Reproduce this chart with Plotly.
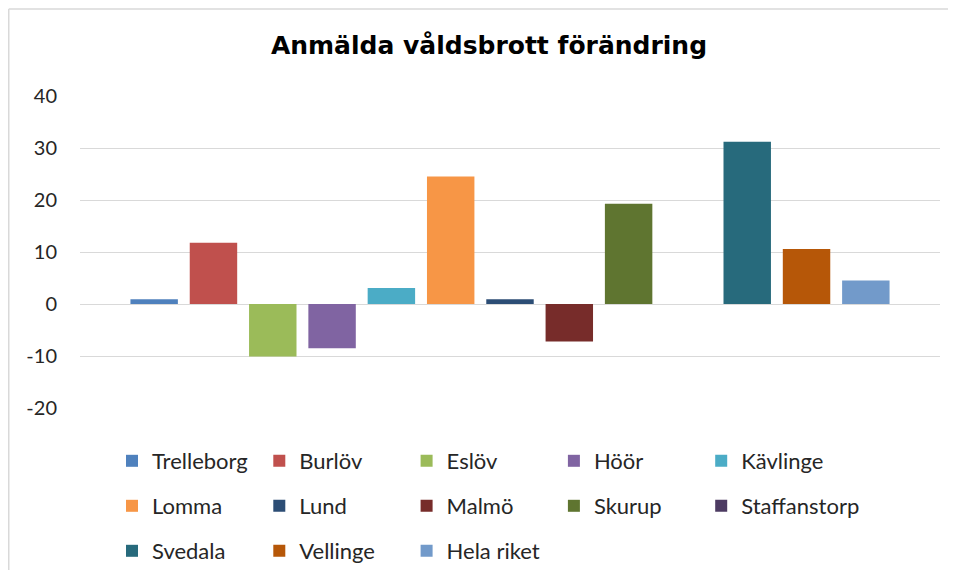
import plotly.graph_objects as go

municipalities = ["Trelleborg", "Burlöv", "Eslöv", "Höör", "Kävlinge",
                  "Lomma", "Lund", "Malmö", "Skurup", "Staffanstorp",
                  "Svedala", "Vellinge", "Hela riket"]
change = [0.9, 11.8, -10.1, -8.5, 3.1, 24.5, 0.9, -7.2, 19.3, 0.0, 31.2, 10.6, 4.5]
colors = ["#4F81BD", "#C0504D", "#9BBB59", "#8064A2", "#4BACC6",
          "#F79646", "#2C4D75", "#772C2A", "#5F7530", "#4D3B62",
          "#276A7C", "#B65708", "#729ACA"]
y_ticks = [-20, -10, 0, 10, 20, 30, 40]
y_tick_labels = ["-20", "-10", "0", "10", "20", "30", "40"]
title_text = "Anmälda våldsbrott förändring"

# the page has an 8px body margin on every side, so the figure is sized to fit inside it
OFF = 8
W, H = 956 - 2 * OFF, 578 - 2 * OFF
ML, MT = 80 - OFF, 96 - OFF
MR = W - (940 - OFF)
MB = H - (408 - OFF)
PW, PH = W - ML - MR, H - MT - MB


def px_x(page_x):
    return (page_x - OFF - ML) / PW


def px_y(page_y):
    return (H - MB - (page_y - OFF)) / PH


LEG_FONT = dict(family="Lato, Carlito, Calibri, sans-serif", size=22, color="#262626")
N_COLS = 5
COL_X0, COL_STEP = 112, 147.3
ROW_Y = [461, 506, 551]

fig = go.Figure()
legend_layout = {}
for i, (name, val, col) in enumerate(zip(municipalities, change, colors)):
    ln = "legend" if i == 0 else f"legend{i + 1}"
    fig.add_trace(go.Bar(
        x=[0], y=[val], name=name, marker=dict(color=col, line=dict(width=0)),
        offsetgroup=str(i), legend=ln, hoverinfo="name+y",
    ))
    r, c = divmod(i, N_COLS)
    legend_layout[ln] = dict(
        orientation="h", x=px_x(COL_X0 + c * COL_STEP), xanchor="left",
        y=px_y(ROW_Y[r]), yanchor="middle",
        font=LEG_FONT, bgcolor="rgba(0,0,0,0)",
        itemclick=False, itemdoubleclick=False,
    )

fig.update_layout(
    width=W, height=H,
    margin=dict(l=ML, r=MR, t=MT, b=MB, pad=0, autoexpand=False),
    paper_bgcolor="white", plot_bgcolor="white",
    barmode="group", bargap=0.1035, bargroupgap=0.2,
    title=dict(text=title_text, x=px_x(489), xref="paper", xanchor="center",
               y=1 - (45 - OFF) / H, yanchor="middle",
               font=dict(family="DejaVu Sans, sans-serif", size=25, color="black", weight="bold")),
    xaxis=dict(range=[-0.5, 0.5], showticklabels=False, showgrid=False, zeroline=False,
               showline=False, ticks="", fixedrange=True),
    yaxis=dict(range=[-20, 40], tickvals=y_ticks, ticktext=y_tick_labels,
               showgrid=True, gridcolor="#d9d9d9", gridwidth=1.3,
               zeroline=True, zerolinecolor="#d9d9d9", zerolinewidth=1.3, showline=False, ticks="",
               ticklabelstandoff=22,
               tickfont=dict(family="Lato, Carlito, Calibri, sans-serif", size=20, color="#262626")),
    showlegend=True,
    **legend_layout,
)

border = dict(color="#d9d9d9", width=1.5)
fig.add_shape(type="line", xref="paper", yref="paper", x0=px_x(8.75), x1=px_x(956),
              y0=px_y(9), y1=px_y(9), line=border)
fig.add_shape(type="line", xref="paper", yref="paper", x0=px_x(8.75), x1=px_x(8.75),
              y0=px_y(9), y1=px_y(578), line=border)

fig.write_html("out.html")
